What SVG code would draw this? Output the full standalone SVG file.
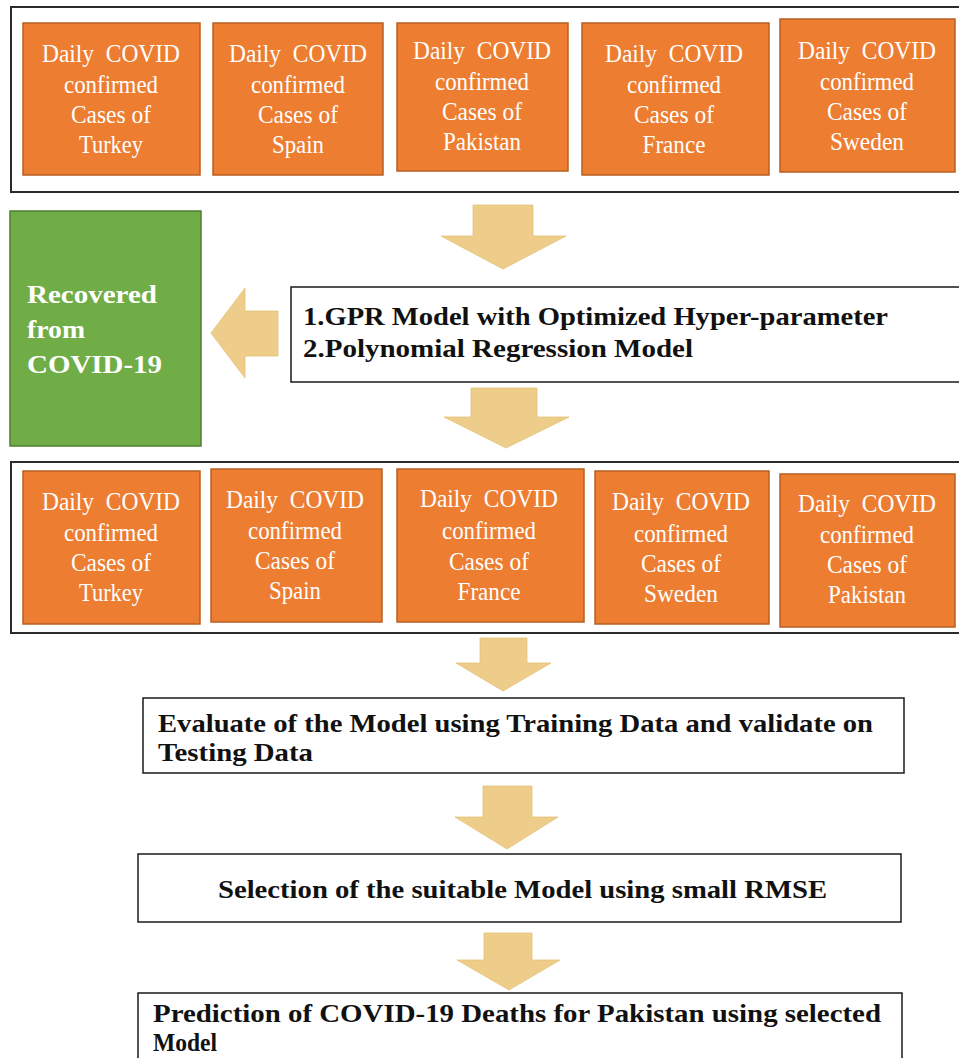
<svg xmlns="http://www.w3.org/2000/svg" width="959" height="1058" viewBox="0 0 959 1058">
<style>
.frame{fill:#fff;stroke:#2b2b2b;stroke-width:2}
.box{fill:#fff;stroke:#1a1a1a;stroke-width:1.5}
.org{fill:#ED7D31;stroke:#B85F22;stroke-width:1.5}
.grn{fill:#70AD47;stroke:#507E32;stroke-width:1.5}
.ot{font-family:"Liberation Serif","Times New Roman",serif;font-size:26px;fill:#fff;text-anchor:middle}
.gt{font-family:"Liberation Serif","Times New Roman",serif;font-size:26px;font-weight:bold;fill:#fff}
.bt{font-family:"Liberation Serif","Times New Roman",serif;font-size:26px;font-weight:bold;fill:#111}
.arr{fill:#EDCD89;stroke:#E4C27A;stroke-width:0.8}
</style>
<rect width="959" height="1058" fill="#fff"/>

<g id="input-group">
<rect class="frame" x="11" y="7" width="960" height="185"/>
</g>
<g id="in-turkey">
<rect class="org" x="23" y="23" width="177" height="152"/>
<text class="ot" xml:space="preserve" x="111" y="62" textLength="138" lengthAdjust="spacingAndGlyphs">Daily  COVID</text>
<text class="ot" x="111" y="93" textLength="94" lengthAdjust="spacingAndGlyphs">confirmed</text>
<text class="ot" x="111" y="123" textLength="80" lengthAdjust="spacingAndGlyphs">Cases of</text>
<text class="ot" x="111" y="153" textLength="64" lengthAdjust="spacingAndGlyphs">Turkey</text>
</g>
<g id="in-spain">
<rect class="org" x="213" y="23" width="170" height="152"/>
<text class="ot" xml:space="preserve" x="298" y="62" textLength="138" lengthAdjust="spacingAndGlyphs">Daily  COVID</text>
<text class="ot" x="298" y="93" textLength="94" lengthAdjust="spacingAndGlyphs">confirmed</text>
<text class="ot" x="298" y="123" textLength="80" lengthAdjust="spacingAndGlyphs">Cases of</text>
<text class="ot" x="298" y="153" textLength="52" lengthAdjust="spacingAndGlyphs">Spain</text>
</g>
<g id="in-pakistan">
<rect class="org" x="397" y="23" width="171" height="148"/>
<text class="ot" xml:space="preserve" x="482" y="59" textLength="138" lengthAdjust="spacingAndGlyphs">Daily  COVID</text>
<text class="ot" x="482" y="90" textLength="94" lengthAdjust="spacingAndGlyphs">confirmed</text>
<text class="ot" x="482" y="120" textLength="80" lengthAdjust="spacingAndGlyphs">Cases of</text>
<text class="ot" x="482" y="150" textLength="78" lengthAdjust="spacingAndGlyphs">Pakistan</text>
</g>
<g id="in-france">
<rect class="org" x="582" y="23" width="187" height="152"/>
<text class="ot" xml:space="preserve" x="674" y="62" textLength="138" lengthAdjust="spacingAndGlyphs">Daily  COVID</text>
<text class="ot" x="674" y="93" textLength="94" lengthAdjust="spacingAndGlyphs">confirmed</text>
<text class="ot" x="674" y="123" textLength="80" lengthAdjust="spacingAndGlyphs">Cases of</text>
<text class="ot" x="674" y="153" textLength="63" lengthAdjust="spacingAndGlyphs">France</text>
</g>
<g id="in-sweden">
<rect class="org" x="780" y="19" width="175" height="153"/>
<text class="ot" xml:space="preserve" x="867" y="59" textLength="138" lengthAdjust="spacingAndGlyphs">Daily  COVID</text>
<text class="ot" x="867" y="90" textLength="94" lengthAdjust="spacingAndGlyphs">confirmed</text>
<text class="ot" x="867" y="120" textLength="80" lengthAdjust="spacingAndGlyphs">Cases of</text>
<text class="ot" x="867" y="150" textLength="74" lengthAdjust="spacingAndGlyphs">Sweden</text>
</g>

<g id="recovered">
<rect class="grn" x="10" y="211" width="191" height="235"/>
<text class="gt" x="27" y="303" textLength="130" lengthAdjust="spacingAndGlyphs">Recovered</text>
<text class="gt" x="27" y="338" textLength="58" lengthAdjust="spacingAndGlyphs">from</text>
<text class="gt" x="27" y="373" textLength="135" lengthAdjust="spacingAndGlyphs">COVID-19</text>
</g>

<g id="models">
<rect class="box" x="291" y="287" width="680" height="95"/>
<text class="bt" x="303" y="325" textLength="585" lengthAdjust="spacingAndGlyphs">1.GPR Model with Optimized Hyper-parameter</text>
<text class="bt" x="303" y="357" textLength="390" lengthAdjust="spacingAndGlyphs">2.Polynomial Regression Model</text>
</g>

<g id="output-group">
<rect class="frame" x="11" y="462" width="960" height="171"/>
</g>
<g id="out-turkey">
<rect class="org" x="23" y="471" width="177" height="153"/>
<text class="ot" xml:space="preserve" x="111" y="510" textLength="138" lengthAdjust="spacingAndGlyphs">Daily  COVID</text>
<text class="ot" x="111" y="541" textLength="94" lengthAdjust="spacingAndGlyphs">confirmed</text>
<text class="ot" x="111" y="571" textLength="80" lengthAdjust="spacingAndGlyphs">Cases of</text>
<text class="ot" x="111" y="601" textLength="64" lengthAdjust="spacingAndGlyphs">Turkey</text>
</g>
<g id="out-spain">
<rect class="org" x="211" y="469" width="171" height="153"/>
<text class="ot" xml:space="preserve" x="295" y="508" textLength="138" lengthAdjust="spacingAndGlyphs">Daily  COVID</text>
<text class="ot" x="295" y="539" textLength="94" lengthAdjust="spacingAndGlyphs">confirmed</text>
<text class="ot" x="295" y="569" textLength="80" lengthAdjust="spacingAndGlyphs">Cases of</text>
<text class="ot" x="295" y="599" textLength="52" lengthAdjust="spacingAndGlyphs">Spain</text>
</g>
<g id="out-france">
<rect class="org" x="397" y="469" width="187" height="153"/>
<text class="ot" xml:space="preserve" x="489" y="507" textLength="138" lengthAdjust="spacingAndGlyphs">Daily  COVID</text>
<text class="ot" x="489" y="539" textLength="94" lengthAdjust="spacingAndGlyphs">confirmed</text>
<text class="ot" x="489" y="570" textLength="80" lengthAdjust="spacingAndGlyphs">Cases of</text>
<text class="ot" x="489" y="600" textLength="63" lengthAdjust="spacingAndGlyphs">France</text>
</g>
<g id="out-sweden">
<rect class="org" x="595" y="471" width="174" height="153"/>
<text class="ot" xml:space="preserve" x="681" y="510" textLength="138" lengthAdjust="spacingAndGlyphs">Daily  COVID</text>
<text class="ot" x="681" y="542" textLength="94" lengthAdjust="spacingAndGlyphs">confirmed</text>
<text class="ot" x="681" y="572" textLength="80" lengthAdjust="spacingAndGlyphs">Cases of</text>
<text class="ot" x="681" y="602" textLength="74" lengthAdjust="spacingAndGlyphs">Sweden</text>
</g>
<g id="out-pakistan">
<rect class="org" x="780" y="474" width="175" height="153"/>
<text class="ot" xml:space="preserve" x="867" y="512" textLength="138" lengthAdjust="spacingAndGlyphs">Daily  COVID</text>
<text class="ot" x="867" y="543" textLength="94" lengthAdjust="spacingAndGlyphs">confirmed</text>
<text class="ot" x="867" y="573" textLength="80" lengthAdjust="spacingAndGlyphs">Cases of</text>
<text class="ot" x="867" y="603" textLength="78" lengthAdjust="spacingAndGlyphs">Pakistan</text>
</g>

<g id="evaluate">
<rect class="box" x="143" y="698" width="761" height="75"/>
<text class="bt" x="158" y="732" textLength="715" lengthAdjust="spacingAndGlyphs">Evaluate of the Model using Training Data and validate on</text>
<text class="bt" x="158" y="761" textLength="155" lengthAdjust="spacingAndGlyphs">Testing Data</text>
</g>

<g id="selection">
<rect class="box" x="138" y="854" width="763" height="68"/>
<text class="bt" x="218" y="898" textLength="609" lengthAdjust="spacingAndGlyphs">Selection of the suitable Model using small RMSE</text>
</g>

<g id="prediction">
<rect class="box" x="138" y="993" width="764" height="80"/>
<text class="bt" x="153" y="1022" textLength="728" lengthAdjust="spacingAndGlyphs">Prediction of COVID-19 Deaths for Pakistan using selected</text>
<text class="bt" x="153" y="1051" textLength="64" lengthAdjust="spacingAndGlyphs">Model</text>
</g>

<g id="connectors">
<path class="arr" d="M473,205 H533 V236 H566 L503,269 L441,236 H473 Z"/>
<path class="arr" d="M278,311 V356 H245 V378 L211,333 L245,288 V311 Z"/>
<path class="arr" d="M471,388 H537 V417 H569 L506,448 L444,417 H471 Z"/>
<path class="arr" d="M480,638 H527 V663 H551 L503,691 L456,663 H480 Z"/>
<path class="arr" d="M483,786 H532 V817 H558 L507,849 L455,817 H483 Z"/>
<path class="arr" d="M484,933 H532 V960 H560 L509,990 L457,960 H484 Z"/>
</g>
</svg>
